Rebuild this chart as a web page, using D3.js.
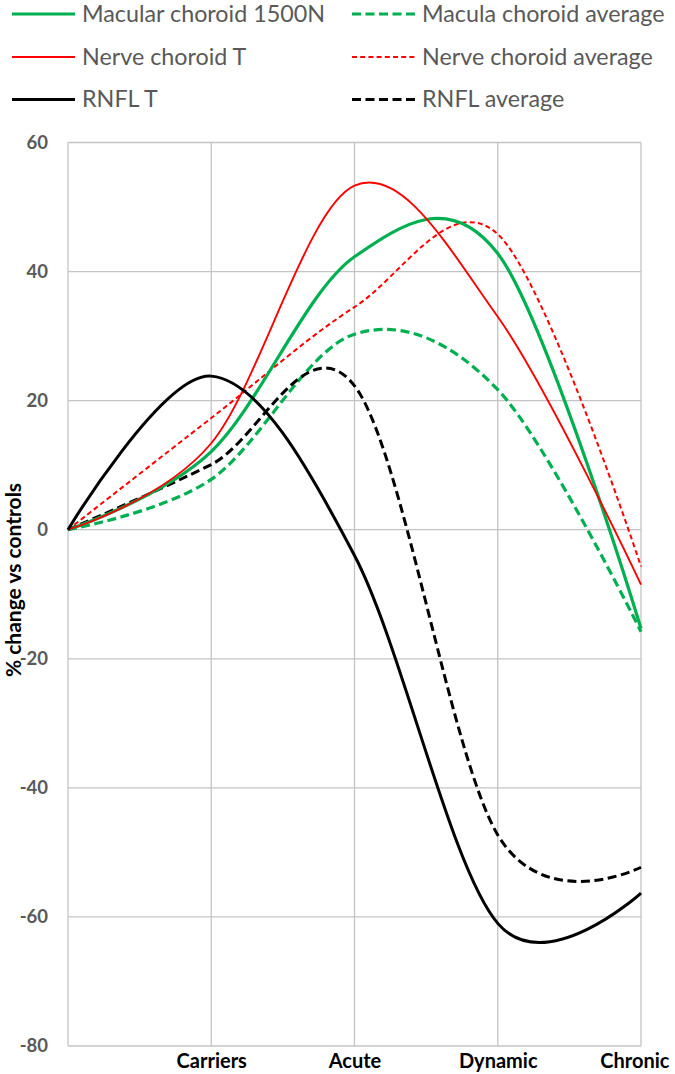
<!DOCTYPE html>
<html>
<head>
<meta charset="utf-8">
<script src="https://cdn.jsdelivr.net/npm/d3@7/dist/d3.min.js"></script>
<style>
  html, body { margin: 0; padding: 0; background: #fff; }
  svg { display: block; }
  text { font-family: Lato, "Open Sans", sans-serif; }
</style>
</head>
<body>
<svg id="chart" width="675" height="1074"></svg>
<script>
// ---- data ----
const categories = ["", "Carriers", "Acute", "Dynamic", "Chronic"];
const yTicks = [-80, -60, -40, -20, 0, 20, 40, 60];

const macularChoroid1500N  = [0, 12.1, 42.3, 42.8, -15.3];
const maculaChoroidAverage = [0, 7.8, 30.3, 21.7, -15.8];
const nerveChoroidT        = [0, 13.4, 53.3, 33, -8.5];
const nerveChoroidAverage  = [0, 17.3, 34.5, 45.8, -5.7];
const rnflT                = [0, 23.8, -4, -61, -56.3];
const rnflAverage          = [0, 10.1, 22.3, -47.3, -52.3];

const seriesNames = ["Macular choroid 1500N", "Nerve choroid T", "RNFL T",
                     "Macula choroid average", "Nerve choroid average", "RNFL average"];
const seriesValues = [macularChoroid1500N, nerveChoroidT, rnflT,
                      maculaChoroidAverage, nerveChoroidAverage, rnflAverage];

// ---- styles ----
const styles = [
  { color: "#00B050", width: 3.2, dash: null },
  { color: "#FF0000", width: 1.9, dash: null },
  { color: "#000000", width: 3.0, dash: null },
  { color: "#00B050", width: 3.2, dash: "9,4.5" },
  { color: "#FF0000", width: 2.0, dash: "5,3.2" },
  { color: "#000000", width: 3.0, dash: "9,4.5" }
];

const svg = d3.select("#chart");
const x = d3.scalePoint().domain(categories).range([68, 641]);
const y = d3.scaleLinear().domain([-80, 60]).range([1046, 142.5]);

// gridlines
const grid = svg.append("g");
grid.selectAll("line.h").data(yTicks).join("line")
  .attr("x1", x.range()[0]).attr("x2", x.range()[1])
  .attr("y1", d => y(d)).attr("y2", d => y(d))
  .attr("stroke", "#c4c4c4").attr("stroke-width", 1.3);
grid.selectAll("line.v").data(categories).join("line")
  .attr("x1", d => x(d)).attr("x2", d => x(d))
  .attr("y1", y(60)).attr("y2", y(-80))
  .attr("stroke", "#c4c4c4").attr("stroke-width", 1.3);

// y axis
const yAxis = svg.append("g").attr("transform", `translate(${x.range()[0]},0)`)
  .call(d3.axisLeft(y).tickValues(yTicks).tickSize(0).tickPadding(20).tickFormat(d => String(d)));
yAxis.select(".domain").remove();
yAxis.selectAll("text").attr("font-size", 18.5).attr("font-weight", 700)
  .attr("fill", "#595959").attr("font-family", "Lato, sans-serif");

// x axis
const xAxis = svg.append("g").attr("transform", `translate(0,${y(-80)})`)
  .call(d3.axisBottom(x).tickSize(0).tickPadding(0));
xAxis.select(".domain").remove();
xAxis.selectAll("text").attr("font-size", 20).attr("font-weight", 700)
  .attr("fill", "#000").attr("font-family", "Lato, sans-serif")
  .attr("y", 22).attr("dy", 0);
xAxis.selectAll(".tick").filter(d => d === "Chronic").select("text")
  .attr("text-anchor", "end").attr("x", 28);

// y axis title
svg.append("text")
  .attr("transform", `translate(21,580) rotate(-90)`)
  .attr("text-anchor", "middle")
  .attr("font-size", 21).attr("font-weight", 700).attr("fill", "#000")
  .text("% change vs controls");

// lines
const line = d3.line()
  .x((d, i) => x(categories[i]))
  .y(d => y(d))
  .curve(d3.curveCardinal.tension(0));

const drawOrder = [3, 4, 5, 0, 1, 2];
svg.append("g").selectAll("path").data(drawOrder).join("path")
  .attr("d", i => line(seriesValues[i]))
  .attr("fill", "none")
  .attr("stroke", i => styles[i].color)
  .attr("stroke-width", i => styles[i].width)
  .attr("stroke-dasharray", i => styles[i].dash)
  .attr("stroke-linejoin", "round");

// legend
const legendCols = [12, 352];
const legendRows = [14, 57, 99.5];
const leg = svg.append("g");
const items = leg.selectAll("g").data(seriesNames.map((n, i) => i)).join("g")
  .attr("transform", i => `translate(${legendCols[Math.floor(i / 3)]},${legendRows[i % 3]})`);
items.append("line")
  .attr("x1", 0).attr("x2", 63).attr("y1", 0).attr("y2", 0)
  .attr("stroke", i => styles[i].color)
  .attr("stroke-width", i => styles[i].width)
  .attr("stroke-dasharray", i => styles[i].dash);
const legTexts = items.append("text")
  .attr("x", 70).attr("y", 7.5)
  .attr("font-size", 23.5).attr("fill", "#595959")
  .text(i => seriesNames[i]);
// Calibri-like narrower set width
const w0 = legTexts.nodes()[0].getComputedTextLength();
const ratio = 243 / w0;
legTexts.each(function() {
  const w = this.getComputedTextLength();
  d3.select(this).attr("textLength", w * ratio).attr("lengthAdjust", "spacingAndGlyphs");
});
</script>
</body>
</html>
